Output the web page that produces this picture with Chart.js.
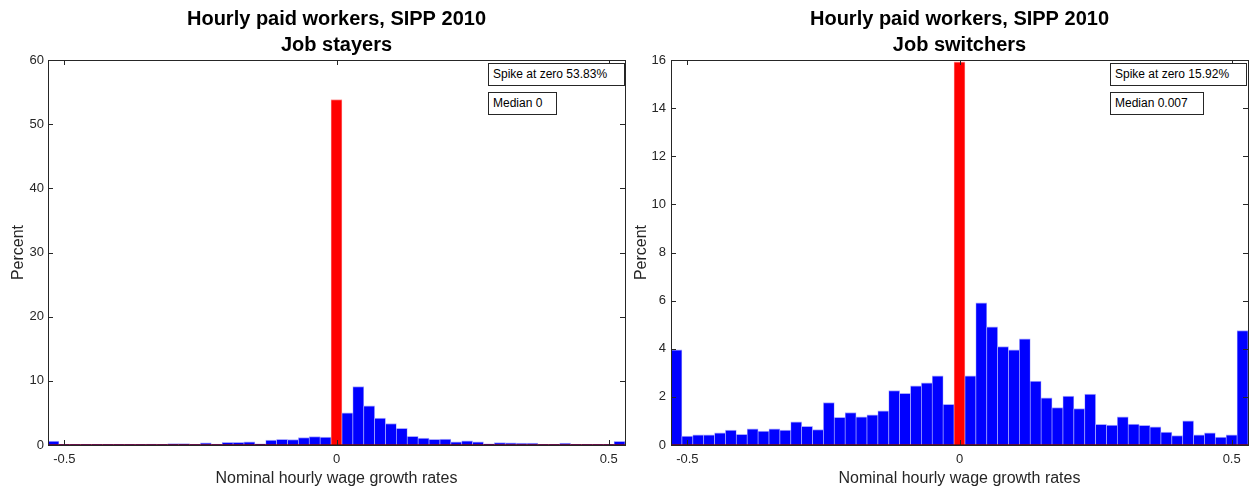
<!DOCTYPE html>
<html>
<head>
<meta charset="utf-8">
<script src="https://cdn.jsdelivr.net/npm/chart.js@4"></script>
<style>
  body { margin: 0; background: #fff; width: 1249px; height: 489px; position: relative; overflow: hidden;
         font-family: "Liberation Sans", Arial, sans-serif; }
  .wrap { position: absolute; top: 0; height: 489px; }
  .note { position: absolute; box-sizing: border-box; border: 1px solid #262626; background: #fff;
          font-size: 12px; line-height: 20px; padding-left: 4px; color: #000; white-space: nowrap; z-index: 2; }
</style>
</head>
<body>
<div class="wrap" style="left:0;width:630px"><canvas id="stayers"></canvas></div>
<div class="wrap" style="left:624px;width:625px"><canvas id="switchers"></canvas></div>

<div class="note" style="left:488px;top:63px;width:137px;height:23px">Spike at zero 53.83%</div>
<div class="note" style="left:488px;top:92px;width:69px;height:23px">Median 0</div>
<div class="note" style="left:1110px;top:63px;width:137px;height:23px">Spike at zero 15.92%</div>
<div class="note" style="left:1110px;top:92px;width:94px;height:23px">Median 0.007</div>

<script>
// centres des classes (largeur 0.02)
const binCenters = [
  -0.52, -0.50, -0.48, -0.46, -0.44, -0.42, -0.40, -0.38, -0.36, -0.34, -0.32, -0.30, -0.28,
  -0.26, -0.24, -0.22, -0.20, -0.18, -0.16, -0.14, -0.12, -0.10, -0.08, -0.06, -0.04, -0.02,
  0,
  0.02, 0.04, 0.06, 0.08, 0.10, 0.12, 0.14, 0.16, 0.18, 0.20, 0.22, 0.24, 0.26,
  0.28, 0.30, 0.32, 0.34, 0.36, 0.38, 0.40, 0.42, 0.44, 0.46, 0.48, 0.50, 0.52
];

// Job stayers (percent)
const stayersPct = [
  0.6, 0.12, 0.12, 0.12, 0.12, 0.12, 0.12, 0.12, 0.12, 0.15, 0.12, 0.22, 0.22,
  0.12, 0.35, 0.15, 0.4, 0.4, 0.5, 0.2, 0.78, 0.88, 0.83, 1.15, 1.3, 1.22,
  53.83,
  5.0, 9.1, 6.1, 4.2, 3.35, 2.6, 1.35, 1.08, 0.88, 0.92, 0.5, 0.65, 0.5,
  0.18, 0.38, 0.32, 0.28, 0.28, 0.12, 0.12, 0.28, 0.12, 0.12, 0.12, 0.12, 0.57
];

// Job switchers (percent)
const switchersPct = [
  3.95, 0.37, 0.42, 0.42, 0.51, 0.62, 0.44, 0.67, 0.58, 0.67, 0.62, 0.96, 0.78,
  0.64, 1.76, 1.15, 1.35, 1.17, 1.25, 1.42, 2.26, 2.15, 2.46, 2.58, 2.87, 1.69,
  15.92,
  2.87, 5.91, 4.91, 4.09, 3.96, 4.41, 2.66, 1.96, 1.55, 2.03, 1.51, 2.12, 0.86,
  0.83, 1.17, 0.87, 0.82, 0.75, 0.54, 0.39, 1.00, 0.42, 0.51, 0.33, 0.42, 4.75
];

const xTicks = [-0.5, 0, 0.5];
const stayersYTicks = [0, 10, 20, 30, 40, 50, 60];
const switchersYTicks = [0, 2, 4, 6, 8, 10, 12, 14, 16];

const AXIS = '#262626';
const FONT = '"Liberation Sans", Arial, sans-serif';

// cadre, ticks vers l'intérieur et ligne de base (style MATLAB)
const framePlugin = {
  id: 'frame',
  afterDatasetsDraw(chart) {
    const { ctx, chartArea: a, scales } = chart;
    ctx.save();
    // ligne de base
    const y0 = scales.y.getPixelForValue(0);
    ctx.strokeStyle = '#7a0a0a';
    ctx.lineWidth = 1.5;
    ctx.beginPath();
    ctx.moveTo(a.left, y0);
    ctx.lineTo(a.right, y0);
    ctx.stroke();
    // ticks
    ctx.strokeStyle = AXIS;
    ctx.lineWidth = 1;
    ctx.beginPath();
    scales.y.ticks.forEach(t => {
      const y = Math.round(scales.y.getPixelForValue(t.value)) + 0.5;
      ctx.moveTo(a.left, y); ctx.lineTo(a.left + 5, y);
      ctx.moveTo(a.right, y); ctx.lineTo(a.right - 5, y);
    });
    scales.x.ticks.forEach(t => {
      const x = Math.round(scales.x.getPixelForValue(t.value)) + 0.5;
      ctx.moveTo(x, a.top); ctx.lineTo(x, a.top + 5);
      ctx.moveTo(x, a.bottom); ctx.lineTo(x, a.bottom - 5);
    });
    ctx.stroke();
    // cadre
    ctx.strokeRect(Math.round(a.left) + 0.5, Math.round(a.top) + 0.5,
                   Math.round(a.right - a.left), Math.round(a.bottom - a.top));
    ctx.restore();
  }
};

/**
 * Crée un histogramme
 */
function makeHistogram(canvasId, values, yTicks, subtitle, opts) {
  const yMax = yTicks[yTicks.length - 1];
  const isSpike = ctx => binCenters[ctx.dataIndex] === 0;
  return new Chart(document.getElementById(canvasId), {
    type: 'bar',
    data: {
      datasets: [{
        data: binCenters.map((x, i) => ({ x: x, y: values[i] })),
        backgroundColor: ctx => isSpike(ctx) ? '#ff0000' : '#0000ff',
        borderColor: ctx => isSpike(ctx) ? '#ffa0a0' : '#a8a8ff',
        borderWidth: { left: 0.7, right: 0.7, top: 1, bottom: 0 },
        borderSkipped: false,
        barPercentage: 1,
        categoryPercentage: 1
      }]
    },
    options: {
      responsive: true,
      maintainAspectRatio: false,
      animation: false,
      layout: { padding: { left: 0, right: opts.padRight, top: 0, bottom: 0 } },
      plugins: {
        legend: { display: false },
        tooltip: { enabled: false },
        title: {
          display: true,
          fullSize: false,
          text: ['Hourly paid workers, SIPP 2010', subtitle],
          color: '#000',
          font: { family: FONT, size: 20, weight: 'bold', lineHeight: 1.3 },
          padding: { top: 6, bottom: 2 }
        }
      },
      scales: {
        x: {
          type: 'linear',
          min: -0.53,
          max: 0.53,
          offset: false,
          grid: { display: false, drawTicks: false },
          border: { display: false },
          afterBuildTicks: s => { s.ticks = xTicks.map(v => ({ value: v })); },
          afterFit: s => { s.height = 44; },
          ticks: {
            color: AXIS,
            padding: 7,
            maxRotation: 0,
            font: { family: FONT, size: 13 },
            callback: v => String(v)
          },
          title: {
            display: true,
            text: 'Nominal hourly wage growth rates',
            color: AXIS,
            font: { family: FONT, size: 16 },
            padding: { top: 0, bottom: 1 }
          }
        },
        y: {
          min: 0,
          max: yMax,
          grid: { display: false, drawTicks: false },
          border: { display: false },
          afterBuildTicks: s => { s.ticks = yTicks.map(v => ({ value: v })); },
          afterFit: s => { s.width = opts.yWidth; },
          ticks: {
            color: AXIS,
            padding: opts.yTickPad,
            font: { family: FONT, size: 13 }
          },
          title: {
            display: true,
            text: 'Percent',
            color: AXIS,
            font: { family: FONT, size: 16 },
            padding: { top: opts.yTitlePad, bottom: 0 }
          }
        }
      }
    },
    plugins: [framePlugin]
  });
}

makeHistogram('stayers', stayersPct, stayersYTicks, 'Job stayers',
  { yWidth: 48, padRight: 5, yTickPad: 4, yTitlePad: 9 });
makeHistogram('switchers', switchersPct, switchersYTicks, 'Job switchers',
  { yWidth: 47, padRight: 1, yTickPad: 5, yTitlePad: 8 });
</script>
</body>
</html>
